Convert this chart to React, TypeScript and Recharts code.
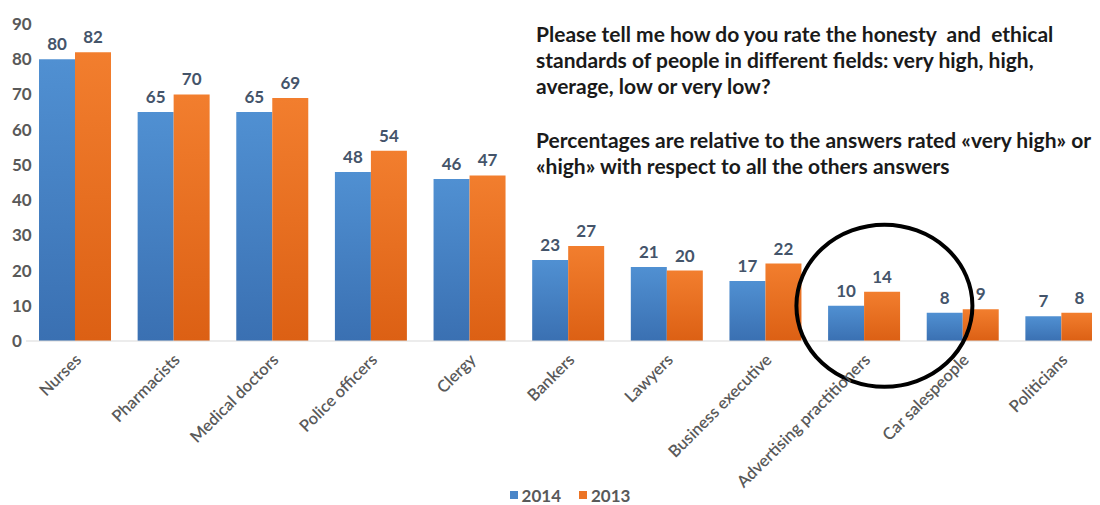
import React from "react";
import { BarChart, Bar, XAxis, YAxis, LabelList, Legend, ReferenceDot } from "recharts";

const categories = [
  "Nurses",
  "Pharmacists",
  "Medical doctors",
  "Police officers",
  "Clergy",
  "Bankers",
  "Lawyers",
  "Business executive",
  "Advertising practitioners",
  "Car salespeople",
  "Politicians",
];
const values2014 = [80, 65, 65, 48, 46, 23, 21, 17, 10, 8, 7];
const values2013 = [82, 70, 69, 54, 47, 27, 20, 22, 14, 9, 8];
const yTicks = [0, 10, 20, 30, 40, 50, 60, 70, 80, 90];
const titleLines1 = [
  "Please tell me how do you rate the honesty  and  ethical",
  "standards of people in different fields: very high, high,",
  "average, low or very low?",
];
const titleLines2 = [
  "Percentages are relative to the answers rated «very high» or",
  "«high» with respect to all the others answers",
];

const data = categories.map((c, i) => ({ name: c, v2014: values2014[i], v2013: values2013[i] }));

const FONT = "Lato, 'Open Sans', sans-serif";

const YTick = (props: any) => {
  const { y, payload } = props;
  return (
    <text x={12} y={y} dy={6} textAnchor="start" fill="#595959" fontSize={17} fontWeight={700} fontFamily={FONT}>
      {payload.value}
    </text>
  );
};

const XTick = (props: any) => {
  const { x, y, payload } = props;
  return (
    <g transform={`translate(${x + 7},${y + 12})`}>
      <text x={0} y={0} textAnchor="end" transform="rotate(-45)" fill="#595959" fontSize={16.5} fontWeight={600} fontFamily={FONT}>
        {payload.value}
      </text>
    </g>
  );
};

const LegendContent = () => (
  <div style={{ display: "flex", justifyContent: "center", alignItems: "center", height: 20, lineHeight: "15px", fontFamily: FONT, fontWeight: 700, fontSize: 17, color: "#595959" }}>
    <span style={{ display: "inline-block", width: 8, height: 8, background: "#4A86C8", marginRight: 4 }} />
    <span style={{ marginRight: 18 }}>2014</span>
    <span style={{ display: "inline-block", width: 8, height: 8, background: "#EC7426", marginRight: 4 }} />
    <span>2013</span>
  </div>
);

const Ellipse = (props: any) => {
  const { cx, cy } = props;
  if (cx == null || cy == null) return null;
  return <ellipse cx={cx + 20} cy={cy} rx={88} ry={81} fill="none" stroke="#000" strokeWidth={4} />;
};

export default function App() {
  return (
    <div style={{ position: "relative", width: 1100, height: 505, overflow: "hidden", margin: "-8px 0 0 -8px", background: "#fff" }}>
      <BarChart
        width={1112}
        height={505}
        data={data}
        margin={{ top: 24, right: 1, left: 0, bottom: 0 }}
        barGap={0}
        barSize={36}
      >
        <defs>
          <linearGradient id="gBlue" x1="0" y1="0" x2="0" y2="1">
            <stop offset="0%" stopColor="#5090D2" />
            <stop offset="100%" stopColor="#3A70B2" />
          </linearGradient>
          <linearGradient id="gOrange" x1="0" y1="0" x2="0" y2="1">
            <stop offset="0%" stopColor="#F27E2E" />
            <stop offset="100%" stopColor="#DC6014" />
          </linearGradient>
        </defs>
        <XAxis
          dataKey="name"
          height={144}
          interval={0}
          tickLine={false}
          axisLine={{ stroke: "#D9D9D9" }}
          tick={<XTick />}
        />
        <YAxis
          width={26}
          domain={[0, 90]}
          ticks={yTicks}
          interval={0}
          tickLine={false}
          axisLine={false}
          tick={<YTick />}
        />
        <Legend content={<LegendContent />} verticalAlign="bottom" height={20} wrapperStyle={{ bottom: 0, left: 0, width: 1140, paddingTop: 0 }} />
        <Bar dataKey="v2014" name="2014" fill="url(#gBlue)" isAnimationActive={false}>
          <LabelList dataKey="v2014" position="top" offset={9} fill="#44546A" fontSize={17} fontWeight={700} fontFamily={FONT} />
        </Bar>
        <Bar dataKey="v2013" name="2013" fill="url(#gOrange)" isAnimationActive={false}>
          <LabelList dataKey="v2013" position="top" offset={9} fill="#44546A" fontSize={17} fontWeight={700} fontFamily={FONT} />
        </Bar>
        <ReferenceDot x="Advertising practitioners" y={10} r={80} shape={<Ellipse />} ifOverflow="visible" />
      </BarChart>
      <div style={{ position: "absolute", left: 536, top: 0, fontFamily: FONT, fontWeight: 700, fontSize: 21, color: "#1A1A1A", whiteSpace: "pre", lineHeight: "26px" }}>
        <div style={{ position: "absolute", top: 21, left: 0 }}>
          {titleLines1.map((t, i) => (
            <div key={i}>{t}</div>
          ))}
        </div>
        <div style={{ position: "absolute", top: 127, left: 0 }}>
          {titleLines2.map((t, i) => (
            <div key={i}>{t}</div>
          ))}
        </div>
      </div>
    </div>
  );
}
